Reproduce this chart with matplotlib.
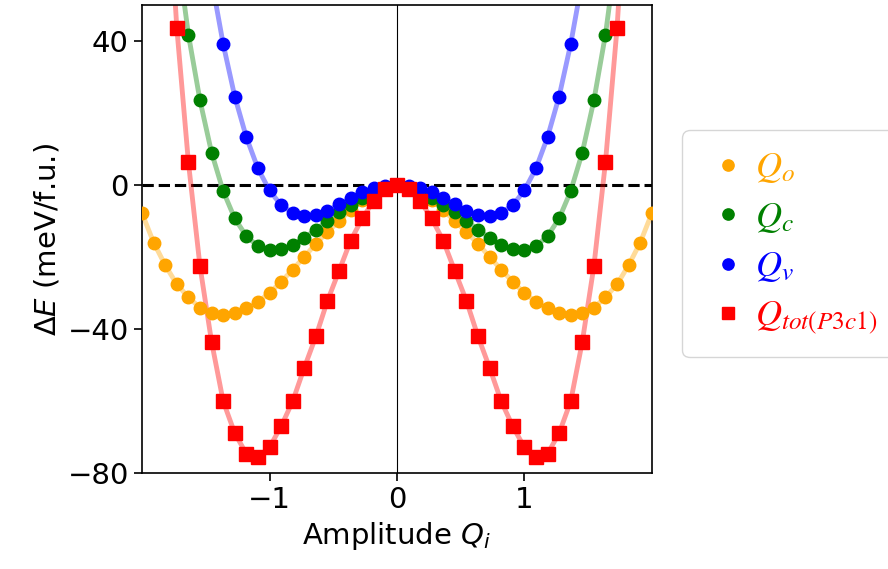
import numpy as np
import matplotlib
matplotlib.use("Agg")
import matplotlib.pyplot as plt

# amplitude grid, 45 points from -2 to 2
amplitude = np.linspace(-2, 2, 45)

# energies (meV/f.u.), left to right
e_o = [-7.9, -16.0, -22.3, -27.6, -31.2, -34.1, -35.6, -36.2, -35.7, -34.3, -32.5,
       -30.0, -26.9, -23.5, -20.0, -16.3, -13.1, -10.0, -7.0, -4.2, -2.0, -0.6, 0.0,
       -0.6, -2.0, -4.2, -7.0, -10.0, -13.1, -16.3, -20.0, -23.5, -26.9, -30.0,
       -32.5, -34.3, -35.7, -36.2, -35.6, -34.1, -31.2, -27.6, -22.3, -16.0, -7.9]
e_c = [np.nan, np.nan, np.nan, 66.0, 41.8, 23.5, 9.0, -1.7, -9.3, -14.2, -17.0,
       -18.0, -17.9, -16.7, -14.7, -12.4, -9.9, -7.4, -5.6, -3.6, -1.8, -0.5, 0.0,
       -0.5, -1.8, -3.6, -5.6, -7.4, -9.9, -12.4, -14.7, -16.7, -17.9, -18.0,
       -17.0, -14.2, -9.3, -1.7, 9.0, 23.5, 41.8, 66.0, np.nan, np.nan, np.nan]
e_v = [np.nan, np.nan, np.nan, np.nan, np.nan, np.nan, 57.0, 39.2, 24.6, 13.3, 4.6,
       -1.5, -5.6, -7.7, -8.6, -8.4, -7.2, -5.4, -3.7, -2.0, -0.8, -0.2, 0.0,
       -0.2, -0.8, -2.0, -3.7, -5.4, -7.2, -8.4, -8.6, -7.7, -5.6, -1.5,
       4.6, 13.3, 24.6, 39.2, 57.0, np.nan, np.nan, np.nan, np.nan, np.nan, np.nan]
e_tot = [np.nan, np.nan, 95.0, 43.6, 6.3, -22.6, -43.6, -60.1, -69.0, -74.7, -75.7,
         -72.9, -67.1, -60.1, -50.8, -42.1, -32.2, -23.9, -15.5, -9.3, -4.4, -1.2, 0.0,
         -1.2, -4.4, -9.3, -15.5, -23.9, -32.2, -42.1, -50.8, -60.1, -67.1, -72.9,
         -75.7, -74.7, -69.0, -60.1, -43.6, -22.6, 6.3, 43.6, 95.0, np.nan, np.nan]

series = [
    (e_o, "orange", "o", r"$Q_o$"),
    (e_c, "green", "o", r"$Q_c$"),
    (e_v, "blue", "o", r"$Q_v$"),
    (e_tot, "red", "s", r"$Q_{tot(P3c1)}$"),
]

fig = plt.figure(figsize=(8.88, 5.69), dpi=100)
ax = fig.add_axes([0.16, 0.169, 0.574, 0.822])

ax.axvline(0, color="black", lw=0.8, zorder=1)
ax.axhline(0, color="black", lw=2.2, ls="--", zorder=1)

for e, col, mk, lab in series:
    ax.plot(amplitude, e, color=col, lw=3.5, alpha=0.4, zorder=2)
    ax.plot(amplitude, e, ls="none", marker=mk, color=col,
            ms=9 if mk == "o" else 9.5, label=lab, zorder=3)

ax.set_xlim(-2, 2)
ax.set_ylim(-80, 50)
ax.set_xticks([-1, 0, 1])
ax.set_yticks([-80, -40, 0, 40])
ax.tick_params(labelsize=21, length=6, width=1.2)
for s in ax.spines.values():
    s.set_linewidth(1.2)
ax.set_xlabel(r"Amplitude $Q_i$", fontsize=21)
ax.set_ylabel(r"$\Delta E$ (meV/f.u.)", fontsize=21)

leg = ax.legend(loc="center left", bbox_to_anchor=(1.06, 0.49), borderaxespad=0,
                prop=dict(size=26, math_fontfamily="stix"),
                handlelength=1.4, handletextpad=0.05, labelspacing=0.4,
                borderpad=0.55, markerscale=0.9)
for t, (e, col, mk, lab) in zip(leg.get_texts(), series):
    t.set_color(col)

fig.savefig("out.png", dpi=100)
